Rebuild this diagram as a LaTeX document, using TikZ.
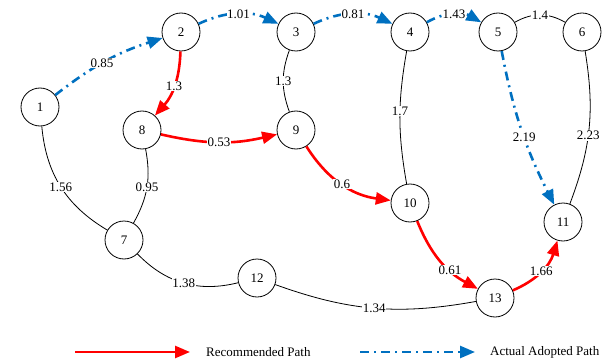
\documentclass[tikz,border=0pt]{standalone}
\usepackage{fontspec}
\setmainfont{Liberation Serif}
\usepackage{tikz}
\usetikzlibrary{arrows.meta}
\definecolor{adoblue}{RGB}{0,112,192}

\begin{document}
\begin{tikzpicture}[x=1pt, y=1pt,
	font=\fontsize{13}{15}\selectfont,
	station/.style={draw, circle, line width=0.8pt, minimum size=38pt, inner sep=0pt},
	wt/.style={fill=white, text=black, inner sep=0.6pt},
	plainpath/.style={draw, black, line width=0.8pt},
	recpath/.style={draw, red, line width=2.6pt, -{Triangle[length=15pt, width=12pt]}},
	adopath/.style={draw, adoblue, line width=2.6pt, dash pattern=on 9pt off 5pt on 2pt off 5pt, -{Triangle[length=15pt, width=12pt]}}]
			\useasboundingbox (0,0) rectangle (604,362);
			\foreach \n/\x/\y in {1/40/255, 2/181/330, 3/296/330, 4/410/330, 5/498/330, 6/582/330, 7/124/122,
				8/142/232, 9/296/232, 10/410/159, 11/563/140, 12/257/84, 13/495/64}
				\node[station] (n\n) at (\x,\y) {\n};
			% actual adopted path
			\path[adopath] (n1) to[bend left=10] node[wt, pos=0.46] {0.85} (n2);
			\path[adopath] (n2) to[bend left=25] node[wt] {1.01} (n3);
			\path[adopath] (n3) to[bend left=25] node[wt] {0.81} (n4);
			\path[adopath] (n4) to[bend left=30] node[wt] {1.43} (n5);
			\path[adopath] (n5) to[bend right=8] node[wt, pos=0.55] {2.19} (n11);
			% recommended path
			\path[recpath] (n2) to[bend left=20] node[wt] {1.3} (n8);
			\path[recpath] (n8) to[bend right=13] node[wt] {0.53} (n9);
			\path[recpath] (n9) to[bend right=25] node[wt] {0.6} (n10);
			\path[recpath] (n10) to[bend right=20] node[wt, pos=0.65] {0.61} (n13);
			\path[recpath] (n13) to[bend right=25] node[wt] {1.66} (n11);
			% other links
			\path[plainpath] (n5) to[bend left=30] node[wt] {1.4} (n6);
			\path[plainpath] (n3) to[bend right=20] node[wt] {1.3} (n9);
			\path[plainpath] (n4) to[bend right=10] node[wt, pos=0.45] {1.7} (n10);
			\path[plainpath] (n6) to[bend left=15] node[wt, pos=0.55] {2.23} (n11);
			\path[plainpath] (n1) to[bend right=27] node[wt] {1.56} (n7);
			\path[plainpath] (n8) to[bend left=20] node[wt] {0.95} (n7);
			\path[plainpath] (n7) to[bend right=30] node[wt] {1.38} (n12);
			\path[plainpath] (n12) to[bend right=15] node[wt] {1.34} (n13);
			% legend
			\coordinate (recL) at (75,10);
			\coordinate (recR) at (190,10);
			\path[recpath] (recL) -- (recR);
			\node[anchor=west, inner sep=0pt] (rectxt) at (206,10) {Recommended Path};
			\coordinate (adoL) at (360,10);
			\coordinate (adoR) at (475,10);
			\path[adopath] (adoL) -- (adoR);
			\node[anchor=west, inner sep=0pt] (adotxt) at (490,10) {Actual Adopted Path};
		\end{tikzpicture}
\end{document}
